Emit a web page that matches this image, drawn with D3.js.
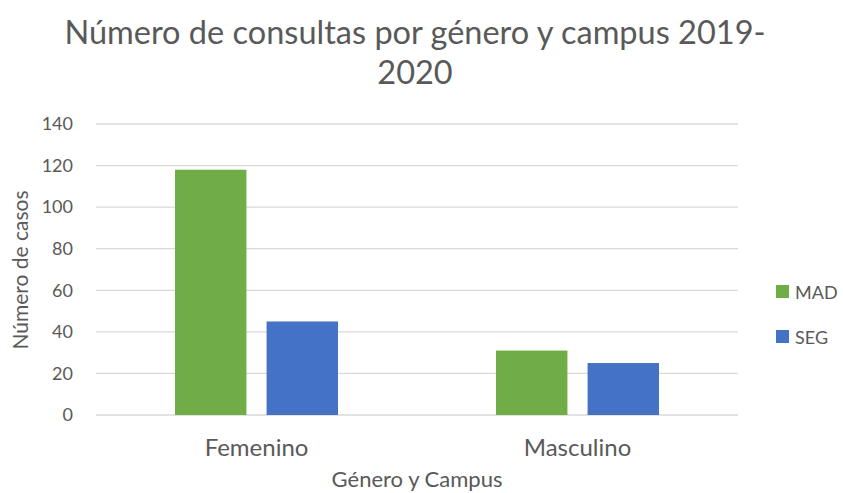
<!DOCTYPE html>
<html>
<head>
<meta charset="utf-8">
<script src="https://cdn.jsdelivr.net/npm/d3@7"></script>
<style>
  body { margin: 0; background: #fff; }
  svg text { font-family: Lato, "Open Sans", sans-serif; fill: #595959; }
</style>
</head>
<body>
<div id="chart"></div>
<script>
// Chart data
const categories = ["Femenino", "Masculino"];
const seriesNames = ["MAD", "SEG"];
const madValues = [118, 31];
const segValues = [45, 25];
const yTicks = [0, 20, 40, 60, 80, 100, 120, 140];
const colors = ["#70AD47", "#4472C4"];

const W = 843, H = 493;
const margin = { top: 124, right: 105, bottom: 78, left: 96 };
const width = W - margin.left - margin.right;
const height = H - margin.top - margin.bottom;

const svg = d3.select("#chart").append("svg")
    .attr("width", W)
    .attr("height", H);

const g = svg.append("g")
    .attr("transform", `translate(${margin.left}, ${margin.top})`);

const rows = categories.map((c, i) => ({ cat: c, values: [madValues[i], segValues[i]] }));

const x0 = d3.scaleBand().domain(categories).range([0, width]).paddingInner(0).paddingOuter(0);
const x1 = d3.scaleBand().domain(seriesNames).range([79, x0.bandwidth() - 79]).paddingInner(0.22);
const y = d3.scaleLinear().domain([0, 140]).range([height, 0]);

// Gridlines
g.selectAll(".grid")
    .data(yTicks)
    .enter()
    .append("line")
    .attr("x1", 0)
    .attr("x2", width)
    .attr("y1", d => y(d))
    .attr("y2", d => y(d))
    .attr("stroke", "#d9d9d9")
    .attr("stroke-width", 1.3);

// Y axis labels
const yAxis = d3.axisLeft(y).tickValues(yTicks).tickSize(0).tickPadding(23);
g.append("g")
    .call(yAxis)
    .call(a => a.select(".domain").remove())
    .selectAll("text")
    .style("font-size", "18px")
    .style("fill", "#595959");

// Bars
g.selectAll(".cat")
    .data(rows)
    .enter()
    .append("g")
    .attr("transform", d => `translate(${x0(d.cat)}, 0)`)
    .selectAll("rect")
    .data(d => d.values.map((v, i) => ({ key: seriesNames[i], value: v })))
    .enter()
    .append("rect")
    .attr("x", d => x1(d.key))
    .attr("width", x1.bandwidth())
    .attr("y", d => y(d.value))
    .attr("height", d => height - y(d.value))
    .attr("fill", (d, i) => colors[i]);

// X axis labels
const xAxis = d3.axisBottom(x0).tickSize(0).tickPadding(24);
g.append("g")
    .attr("transform", `translate(0, ${height})`)
    .call(xAxis)
    .call(a => a.select(".domain").remove())
    .selectAll("text")
    .style("font-size", "24px")
    .style("fill", "#595959");

// Title
const title = svg.append("text")
    .attr("text-anchor", "middle")
    .style("font-size", "32.5px");
title.append("tspan").attr("x", 415).attr("y", 44).text("Número de consultas por género y campus 2019-");
title.append("tspan").attr("x", 415).attr("y", 84).text("2020");

// Axis titles
svg.append("text")
    .attr("x", margin.left + width / 2)
    .attr("y", 487)
    .attr("text-anchor", "middle")
    .style("font-size", "22px")
    .text("Género y Campus");

svg.append("text")
    .attr("transform", "translate(28, 270) rotate(-90)")
    .attr("text-anchor", "middle")
    .style("font-size", "21px")
    .text("Número de casos");

// Legend
const legend = svg.selectAll(".legend")
    .data(seriesNames)
    .enter()
    .append("g")
    .attr("transform", (d, i) => `translate(776, ${285 + i * 45})`);

legend.append("rect")
    .attr("width", 13)
    .attr("height", 13)
    .attr("fill", (d, i) => colors[i]);

legend.append("text")
    .attr("x", 19)
    .attr("y", 14)
    .style("font-size", "18px")
    .text(d => d);
</script>
</body>
</html>
